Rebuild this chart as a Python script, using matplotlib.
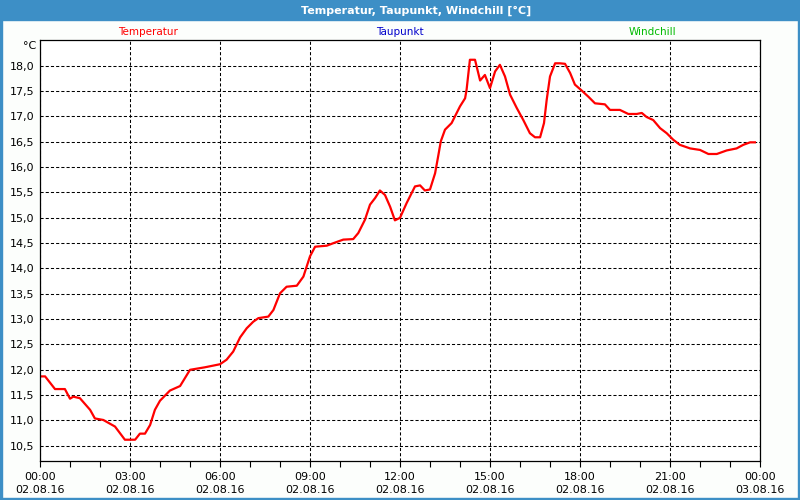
from datetime import datetime, timedelta
from matplotlib import pyplot as plt
from matplotlib.patches import Rectangle
import matplotlib.dates as mdates
import matplotlib.ticker as mticker

# hours after 02.08.16 00:00 and temperature in degC
hours = [0.03, 0.17, 0.5, 0.83, 1.0, 1.11, 1.33, 1.67, 1.83, 2.11, 2.5, 2.83,
         3.17, 3.33, 3.5, 3.67, 3.83, 4.0, 4.33, 4.67, 5.0, 5.5, 6.0, 6.22,
         6.44, 6.67, 6.89, 7.11, 7.28, 7.61, 7.78, 8.0, 8.22, 8.56, 8.78, 9.0,
         9.17, 9.56, 9.78, 10.11, 10.44, 10.61, 10.83, 11.0, 11.17, 11.33,
         11.5, 11.67, 11.83, 12.0, 12.22, 12.5, 12.67, 12.83, 13.0, 13.17,
         13.28, 13.36, 13.5, 13.72, 13.83, 14.0, 14.17, 14.22, 14.33, 14.5,
         14.67, 14.83, 15.0, 15.17, 15.33, 15.5, 15.67, 15.89, 16.11, 16.33,
         16.5, 16.67, 16.8, 16.89, 17.0, 17.17, 17.33, 17.5, 17.67, 17.83,
         18.06, 18.28, 18.5, 18.83, 19.0, 19.33, 19.61, 19.89, 20.06, 20.22,
         20.44, 20.67, 20.89, 21.11, 21.33, 21.67, 22.0, 22.28, 22.56, 22.89,
         23.22, 23.44, 23.67, 23.83]
temperatur = [11.87, 11.87, 11.62, 11.62, 11.43, 11.47, 11.44, 11.21, 11.04,
              11.01, 10.88, 10.62, 10.62, 10.74, 10.74, 10.91, 11.21, 11.39,
              11.59, 11.68, 12.0, 12.05, 12.11, 12.2, 12.36, 12.64, 12.82,
              12.95, 13.02, 13.05, 13.18, 13.51, 13.64, 13.66, 13.84, 14.24,
              14.43, 14.45, 14.5, 14.57, 14.58, 14.7, 14.96, 15.26, 15.39,
              15.54, 15.45, 15.22, 14.95, 15.0, 15.29, 15.62, 15.64, 15.54,
              15.56, 15.88, 16.24, 16.51, 16.74, 16.87, 17.0, 17.2, 17.36,
              17.53, 18.12, 18.12, 17.71, 17.82, 17.56, 17.89, 18.02, 17.79,
              17.43, 17.17, 16.93, 16.67, 16.59, 16.59, 16.87, 17.33, 17.79,
              18.05, 18.05, 18.04, 17.86, 17.63, 17.51, 17.39, 17.26, 17.24,
              17.13, 17.13, 17.05, 17.05, 17.07, 16.99, 16.93, 16.77, 16.67,
              16.54, 16.44, 16.37, 16.34, 16.26, 16.26, 16.33, 16.37, 16.44,
              16.49, 16.49]

y_ticks = [10.5, 11.0, 11.5, 12.0, 12.5, 13.0, 13.5, 14.0, 14.5, 15.0, 15.5,
           16.0, 16.5, 17.0, 17.5, 18.0]
series_names = ['Temperatur', 'Taupunkt', 'Windchill']
series_colors = ['#ff0000', '#0000cc', '#00bb00']
title = 'Temperatur, Taupunkt, Windchill [°C]'

start = datetime(2016, 8, 2)
times = [start + timedelta(hours=h) for h in hours]

fig = plt.figure(figsize=(8, 5), dpi=100, facecolor='#fcfefc')

# blue title bar and frame
fig.patches.append(Rectangle((0, 0.96), 1, 0.04, transform=fig.transFigure,
                             color='#3d8fc6', zorder=0))
for r in [(0, 0, 0.0025, 1), (0.9975, 0, 0.0025, 1), (0, 0, 1, 0.004)]:
    fig.patches.append(Rectangle(r[:2], r[2], r[3], transform=fig.transFigure,
                                 color='#3d8fc6', zorder=0))
fig.text(0.52, 0.979, title, color='white', fontsize=8, fontweight='bold',
         ha='center', va='center')

ax = fig.add_axes([0.05, 0.078, 0.9, 0.842])
ax.plot(times, temperatur, color=series_colors[0], lw=1.6)

ax.set_xlim(start, start + timedelta(hours=24))
ax.set_ylim(10.2, 18.51)

ax.xaxis.set_major_locator(mdates.HourLocator(byhour=range(0, 24, 3)))
ax.xaxis.set_minor_locator(mdates.HourLocator())
ax.xaxis.set_major_formatter(mdates.DateFormatter('%H:%M\n%d.%m.%y'))
ax.yaxis.set_major_locator(mticker.FixedLocator(y_ticks))
ax.yaxis.set_major_formatter(
    mticker.FuncFormatter(lambda v, p: f'{v:.1f}'.replace('.', ',')))

ax.tick_params(axis='x', which='both', length=4, width=0.8, pad=4,
               labelsize=8, color='black')
ax.tick_params(axis='y', length=0, pad=4, labelsize=8)
for lab in ax.get_xticklabels():
    lab.set_linespacing(1.35)

ax.grid(True, which='major', color='black', lw=0.75, linestyle=(0, (3, 2)))
for s in ax.spines.values():
    s.set_linewidth(0.9)

# legend labels above the plot
for name, col, x in zip(series_names, series_colors, [0.185, 0.5, 0.815]):
    fig.text(x, 0.936, name, color=col, fontsize=7.5, ha='center', va='center')
fig.text(0.045, 0.908, '°C', fontsize=8, ha='right', va='center')

plt.savefig('out.png', dpi=100, facecolor=fig.get_facecolor())
